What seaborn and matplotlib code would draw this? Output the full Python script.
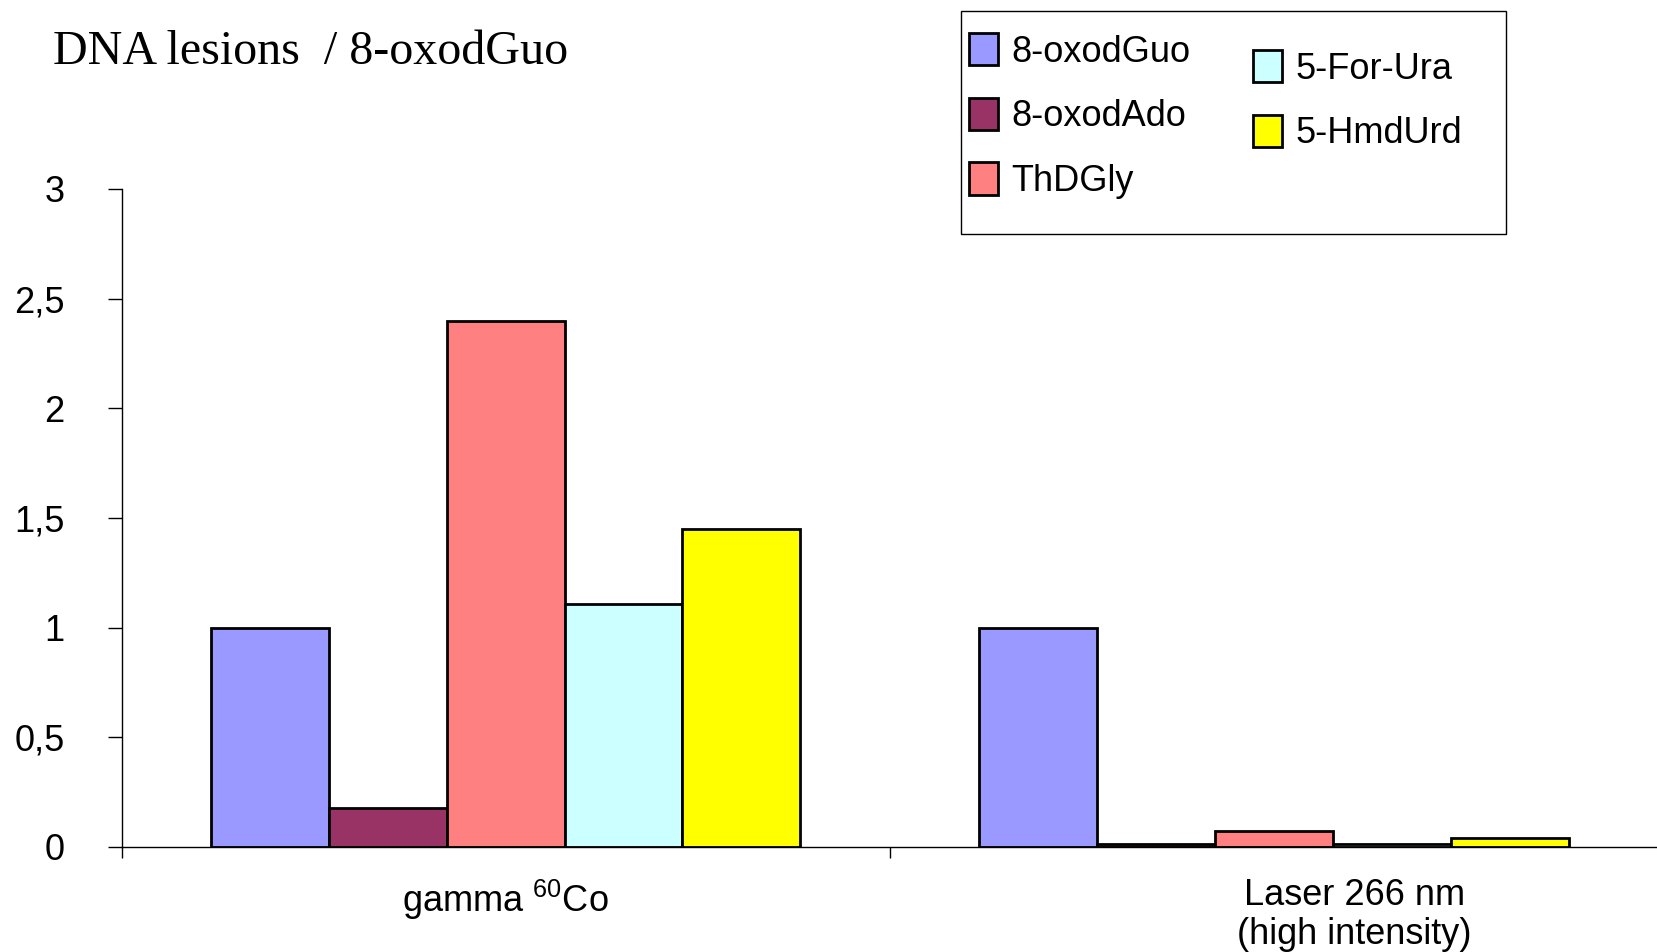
import matplotlib
matplotlib.use('Agg')
import matplotlib.pyplot as plt
import matplotlib.patches as mpatches
import pandas as pd
import seaborn as sns

# data
conditions = ['gamma $^{\\mathregular{60}}$Co', 'Laser 266 nm\n(high intensity)']
lesions = ['8-oxodGuo', '8-oxodAdo', 'ThDGly', '5-For-Ura', '5-HmdUrd']
gamma_vals = [1.0, 0.18, 2.40, 1.11, 1.45]
laser_vals = [1.0, 0.012, 0.072, 0.012, 0.043]
colors = ['#9999FF', '#993366', '#FF8080', '#CCFFFF', '#FFFF00']
ytick_vals = [0, 0.5, 1, 1.5, 2, 2.5, 3]
ytick_labels = ['0', '0,5', '1', '1,5', '2', '2,5', '3']

df = pd.DataFrame({
    'condition': [c for c in conditions for _ in lesions],
    'lesion': lesions * 2,
    'value': gamma_vals + laser_vals,
})

sns.set_style('ticks')
plt.rcParams['font.family'] = ['Liberation Sans', 'DejaVu Sans']
plt.rcParams['mathtext.fontset'] = 'custom'
plt.rcParams['mathtext.rm'] = 'Liberation Sans'
plt.rcParams['text.color'] = 'black'
plt.rcParams['xtick.color'] = 'black'
plt.rcParams['ytick.color'] = 'black'

fig = plt.figure(figsize=(16.58, 9.52), dpi=100)
ax = fig.add_axes([0.0733, 0.1103, 0.9267, 0.6912])

sns.barplot(data=df, x='condition', y='value', hue='lesion', hue_order=lesions,
            order=conditions, palette=colors, width=0.767, saturation=1, gap=0,
            edgecolor='black', linewidth=2, legend=False, ax=ax)

ax.set_ylim(0, 3)
ax.set_xlim(-0.5, 1.49)
ax.set_xlabel('')
ax.set_ylabel('')
ax.set_yticks(ytick_vals, ytick_labels)
# the laser label sits right of its bar group in the reference
ax.set_xticks([0, 1.105], conditions)
ax.set_xticks([-0.5, 0.5, 1.5], minor=True)
ax.tick_params(axis='y', length=10, width=1, pad=31, labelsize=26, labelcolor='black')
ax.tick_params(axis='x', which='major', length=0, pad=22, labelsize=26, labelcolor='black')
ax.tick_params(axis='x', which='minor', length=8, width=1, color='black')
sns.despine(ax=ax)
for s in ['left', 'bottom']:
    ax.spines[s].set_linewidth(1)
    ax.spines[s].set_color('black')
for lbl in ax.get_xticklabels():
    lbl.set_linespacing(1.15)

fig.text(0.032, 0.945, 'DNA lesions  / 8-oxodGuo', family='Liberation Serif',
         fontsize=34.6, va='center', ha='left')

# legend: two columns, second one shifted down half a row
handles = [mpatches.Patch(facecolor=c, edgecolor='black', linewidth=2, label=l)
           for c, l in zip(colors, lesions)]
leg_kw = dict(loc='upper left', frameon=False, borderpad=0, borderaxespad=0,
              fontsize=26, handlelength=0.8, handleheight=1.0,
              handletextpad=0.38, labelspacing=0.78)
fig.legend(handles=handles[:3], bbox_to_anchor=(969 / 1658, 1 - 33 / 952), **leg_kw)
fig.legend(handles=handles[3:], bbox_to_anchor=(1253 / 1658, 1 - 50 / 952), **leg_kw)
fig.add_artist(mpatches.Rectangle((961 / 1658, 1 - 233.7 / 952), 545 / 1658, 223 / 952,
                                  transform=fig.transFigure, fill=False,
                                  edgecolor='black', linewidth=1))

fig.savefig('out.png', dpi=100)
